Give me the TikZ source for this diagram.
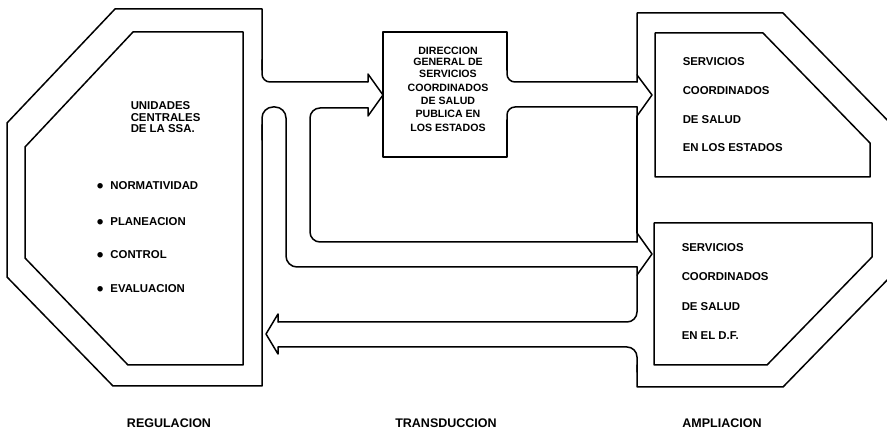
\documentclass[tikz,border=0pt]{standalone}
\usepackage{fontspec}
\setmainfont{Liberation Sans}
\begin{document}
\begin{tikzpicture}[x=1pt,y=-1pt,line width=1.5pt,line join=round,line cap=round,
  txt/.style={font=\bfseries\fontsize{11.4}{13}\selectfont,inner sep=0pt,anchor=base west},
  dgt/.style={font=\bfseries\fontsize{10.6}{12}\selectfont,inner sep=0pt,anchor=base},
  caption/.style={font=\bfseries\fontsize{12.5}{14}\selectfont,inner sep=0pt,anchor=base}]
\useasboundingbox (0,0) rectangle (887,435);
% ---- left ring (REGULACION) ----
\draw (262,70) -- (262,9) -- (115,9) -- (7,123) -- (7,277) -- (113,386) -- (262,386) -- (262,125);
\draw (243,32) -- (133,32) -- (25,147) -- (25,258) -- (128,365) -- (243,365) -- cycle;
% top pipe from left ring to the DG box
\draw[rounded corners=8] (262,60) -- (262,82) -- (368,82);
\draw (368,82) -- (368,74) -- (383,95) -- (368,116) -- (368,108);
\draw[rounded corners=10] (368,108) -- (310,108) -- (310,242) -- (637,242);
\draw[rounded corners=11] (262,140) -- (262,107) -- (286,107) -- (286,267) -- (637,267);
% ---- DG box ----
\draw (507,70) -- (507,32) -- (383,32) -- (383,157) -- (507,157) -- (507,120);
\draw[rounded corners=8] (507,62) -- (507,82) -- (637,82);
\draw[rounded corners=8] (507,127) -- (507,107) -- (637,107);
\draw (637,82) -- (637,75) -- (652,95) -- (637,116) -- (637,107);
% ---- right ring (AMPLIACION) ----
\draw (637,75) -- (637,13) -- (783,13) -- (895,128);
\draw (637,116) -- (637,233);
\draw (637,242) -- (637,233) -- (652,254) -- (637,275) -- (637,267);
\draw[rounded corners=10] (637,275) -- (637,322) -- (278,322);
\draw (278,322) -- (278,314) -- (266,334) -- (278,354) -- (278,347);
\draw[rounded corners=10] (278,347) -- (637,347) -- (637,372);
\draw (637,365) -- (637,387) -- (783,387) -- (895,272);
\draw (655,33) -- (763,33) -- (870,143) -- (870,177) -- (655,177) -- cycle;
\draw (654,223) -- (872,223) -- (872,257) -- (767,365) -- (654,365) -- cycle;
% ---- texts ----
\node[txt] (u1) at (130,110) {UNIDADES};
\node[txt] (u2) at (130,122) {CENTRALES};
\node[txt] (u3) at (130,133) {DE LA SSA.};
\foreach \t/\y [count=\i] in {NORMATIVIDAD/190,PLANEACION/226,CONTROL/259,EVALUACION/293}{
  \node[txt] (b\i) at (96,\y) {\raisebox{-2.2pt}{\fontsize{19}{19}\selectfont\textbullet}\hspace{7pt}\t};
}
\foreach \t/\y [count=\i] in {DIRECCION/55,{GENERAL DE}/66,SERVICIOS/78,COORDINADOS/92,{DE SALUD}/105,{PUBLICA EN}/118,{LOS ESTADOS}/132}{
  \node[dgt] (dg\i) at (448,\y) {\t};
}
\foreach \t/\y [count=\i] in {SERVICIOS/66,COORDINADOS/95,{DE SALUD}/124,{EN LOS ESTADOS}/152}{
  \node[txt] (e\i) at (682,\y) {\t};
}
\foreach \t/\y [count=\i] in {SERVICIOS/252,COORDINADOS/281,{DE SALUD}/311,{EN EL D.F.}/340}{
  \node[txt] (f\i) at (681,\y) {\t};
}
\node[caption] (reg) at (169,428) {REGULACION};
\node[caption] (tra) at (446,428) {TRANSDUCCION};
\node[caption] (amp) at (722,428) {AMPLIACION};
\end{tikzpicture}
\end{document}
